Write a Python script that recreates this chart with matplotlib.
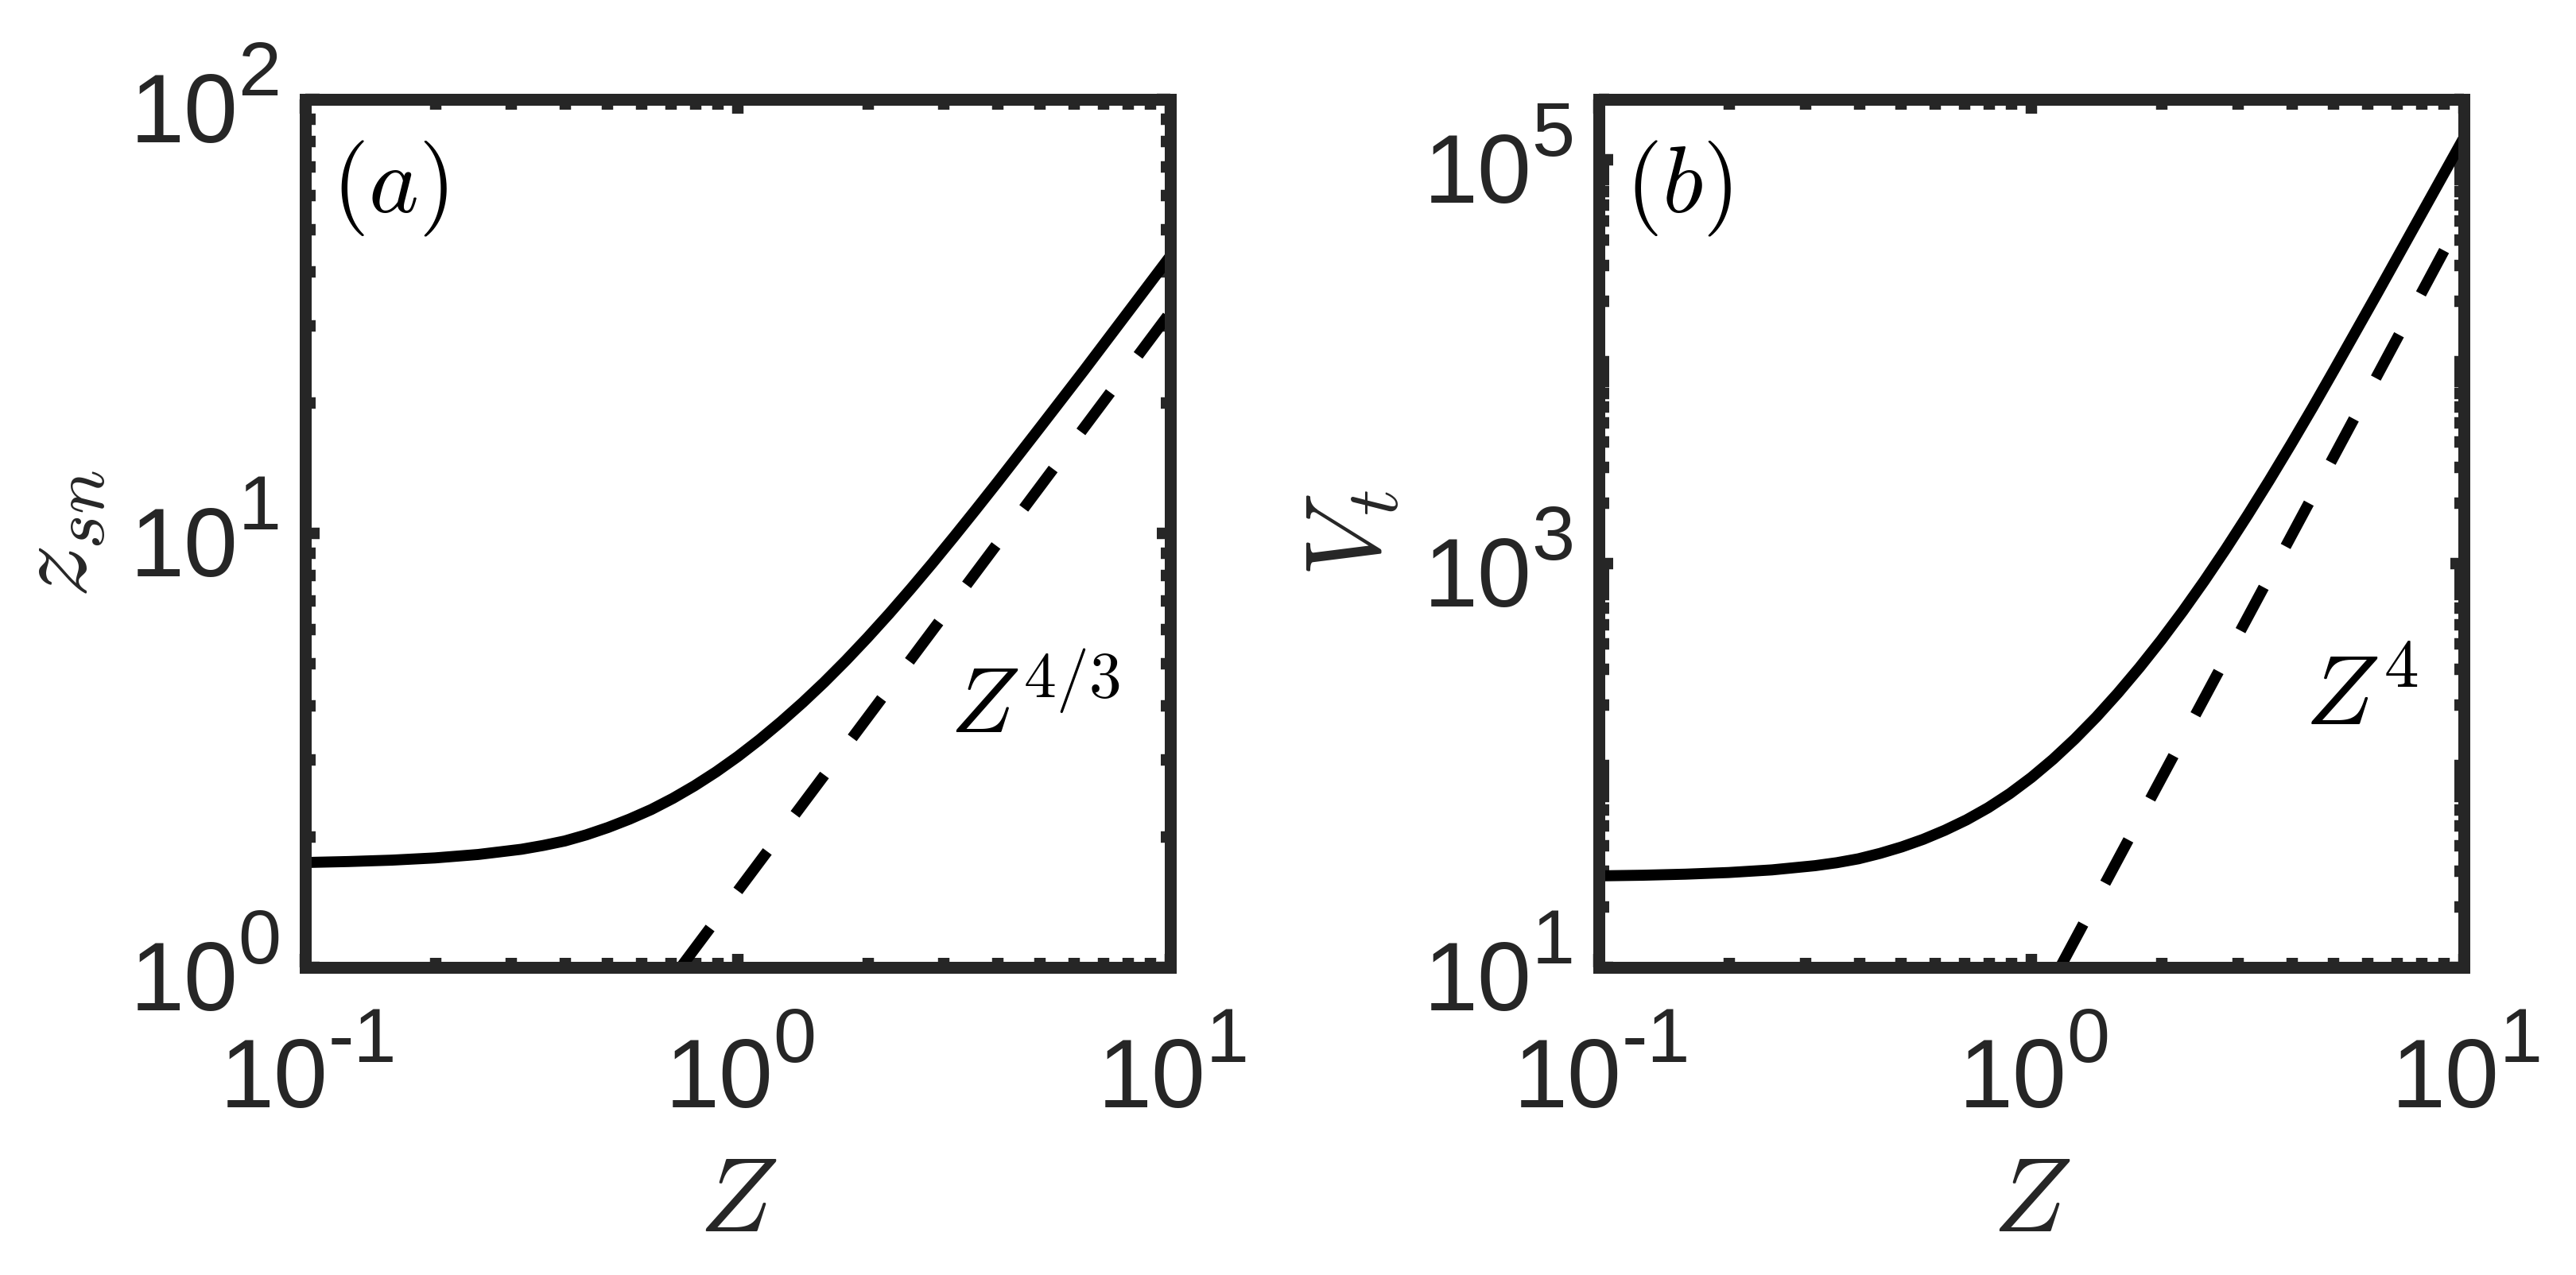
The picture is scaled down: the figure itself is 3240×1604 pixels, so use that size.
import numpy as np
import matplotlib
matplotlib.use("Agg")
import matplotlib.pyplot as plt
from matplotlib.ticker import FixedLocator, LogLocator, NullFormatter

# values (log-spaced Z)
Z_GRID = [0.1, 0.1259, 0.1585, 0.1995, 0.2512, 0.3162,
          0.3548, 0.3981, 0.4467, 0.5012, 0.5623, 0.631, 0.7079, 0.7943, 0.8913, 1.0,
          1.122, 1.259, 1.413, 1.585, 1.778, 1.995, 2.239, 2.512, 2.818, 3.162,
          3.548, 3.981, 4.467, 5.012, 6.31, 7.943, 10.0]
ZSN = [1.744, 1.753, 1.766, 1.787, 1.82, 1.871,
       1.909, 1.955, 2.02, 2.10, 2.196, 2.31, 2.451, 2.62, 2.821, 3.06,
       3.344, 3.68, 4.075, 4.54, 5.093, 5.75, 6.528, 7.45, 8.535, 9.82,
       11.33, 13.1, 15.18, 17.6, 23.7, 32.1, 43.5]
VT = [28.4, 28.6, 28.95, 29.5, 30.4, 31.9,
      33.0, 34.5, 36.7, 39.5, 43.1, 47.8, 53.8, 61.8, 72.6, 87.3,
      107.4, 135.2, 174.0, 228.6, 306.1, 417.8, 581.6, 824.1, 1188.0, 1742.0,
      2589.0, 3899.0, 5935.0, 9141.0, 21930.0, 53210.0, 129100.0]

# reference power laws (dashed)
ZSN_REF_Z = [0.738, 10.0]
ZSN_REF = [1.0, 32.3]
VT_REF_Z = [1.165, 10.0]
VT_REF = [10.0, 54300.0]

X_MAJOR = [0.1, 1.0, 10.0]
ZSN_MAJOR = [1.0, 10.0, 100.0]
VT_MAJOR = [1e1, 1e3, 1e5]

DARK = "#262626"
TICK_FS = 44
SUP_FS = 35


def exp_width(s):
    # rough advance width (pt) of the exponent string in Liberation Sans
    w = 0.0
    for ch in s:
        w += 0.333 * SUP_FS if ch == "-" else 0.556 * SUP_FS
    return w


def sci_ticklabels(ax, xticks, yticks):
    # MATLAB-like "10^n" labels with a large raised exponent
    w10 = 1.112 * TICK_FS
    for v in xticks:
        es = str(int(round(np.log10(v))))
        r = (w10 - exp_width(es)) / 2 + 1.3
        ax.annotate("10", xy=(v, 0), xycoords=ax.get_xaxis_transform(),
                    xytext=(r, -52), textcoords="offset points", ha="right", va="center",
                    fontsize=TICK_FS, color=DARK, annotation_clip=False)
        ax.annotate(es, xy=(v, 0), xycoords=ax.get_xaxis_transform(),
                    xytext=(r, -33.7), textcoords="offset points", ha="left", va="center",
                    fontsize=SUP_FS, color=DARK, annotation_clip=False)
    for v in yticks:
        es = str(int(round(np.log10(v))))
        ax.annotate(es, xy=(0, v), xycoords=ax.get_yaxis_transform(),
                    xytext=(-11, 10.8), textcoords="offset points", ha="right", va="center",
                    fontsize=SUP_FS, color=DARK, annotation_clip=False)
        ax.annotate("10", xy=(0, v), xycoords=ax.get_yaxis_transform(),
                    xytext=(-11 - exp_width(es), -7.9), textcoords="offset points",
                    ha="right", va="center", fontsize=TICK_FS, color=DARK,
                    annotation_clip=False)


def style_axes(ax, ylim, y_major):
    ax.set_xscale("log")
    ax.set_yscale("log")
    ax.set_xlim(0.1, 10)
    ax.set_ylim(*ylim)

    ax.xaxis.set_major_locator(FixedLocator(X_MAJOR))
    ax.xaxis.set_minor_locator(LogLocator(base=10, subs=np.arange(2, 10) * 1.0, numticks=100))
    ax.yaxis.set_major_locator(FixedLocator(y_major))
    ax.yaxis.set_minor_locator(LogLocator(base=10, subs=np.arange(1, 10) * 1.0, numticks=100))
    ax.xaxis.set_minor_formatter(NullFormatter())
    ax.yaxis.set_minor_formatter(NullFormatter())

    ax.tick_params(which="both", direction="in", top=True, right=True,
                   width=5.2, color=DARK, labelbottom=False, labelleft=False)
    ax.tick_params(which="major", length=6.3)
    ax.tick_params(which="minor", length=4.5)

    for s in ax.spines.values():
        s.set_linewidth(5.4)
        s.set_color(DARK)
        s.set_capstyle("projecting")

    sci_ticklabels(ax, X_MAJOR, y_major)


def main():
    plt.rcParams["font.family"] = ["Liberation Sans", "DejaVu Sans"]
    plt.rcParams["mathtext.fontset"] = "cm"

    fig = plt.figure(figsize=(16.2, 8.02), dpi=200)
    ax_a = fig.add_axes([0.1185, 0.2413, 0.3358, 0.6808])
    ax_b = fig.add_axes([0.6207, 0.2413, 0.3358, 0.6808])

    dash = (0, (4.45, 4.2))

    # (a) z_sn
    ax_a.plot(Z_GRID, ZSN, color="k", lw=5.0, solid_capstyle="butt", solid_joinstyle="round")
    ax_a.plot(ZSN_REF_Z, ZSN_REF, color="k", lw=5.0, linestyle=dash, dash_capstyle="butt")
    style_axes(ax_a, (1, 100), ZSN_MAJOR)
    ax_a.text(0.03, 0.955, r"$(a)$", transform=ax_a.transAxes, ha="left", va="top",
              fontsize=43, color="k")
    ax_a.text(3.1, 3.47, r"$Z^{4/3}$", ha="left", va="baseline", fontsize=42, color="k")

    # (b) V_t
    ax_b.plot(Z_GRID, VT, color="k", lw=5.0, solid_capstyle="butt", solid_joinstyle="round")
    ax_b.plot(VT_REF_Z, VT_REF, color="k", lw=5.0, linestyle=dash, dash_capstyle="butt")
    style_axes(ax_b, (10, 2e5), VT_MAJOR)
    ax_b.text(0.03, 0.955, r"$(b)$", transform=ax_b.transAxes, ha="left", va="top",
              fontsize=43, color="k")
    ax_b.text(4.29, 159, r"$Z^{4}$", ha="left", va="baseline", fontsize=45, color="k")

    for ax, ylab in [(ax_a, r"$z_{sn}$"), (ax_b, r"$V_t$")]:
        ax.set_xlabel(r"$Z$", fontsize=48, color=DARK)
        ax.set_ylabel(ylab, fontsize=48, color=DARK)
        ax.xaxis.set_label_coords(0.5, -0.215)
        ax.yaxis.set_label_coords(-0.227, 0.5)

    fig.savefig("out.png", dpi=200)
    plt.close(fig)


if __name__ == "__main__":
    main()
